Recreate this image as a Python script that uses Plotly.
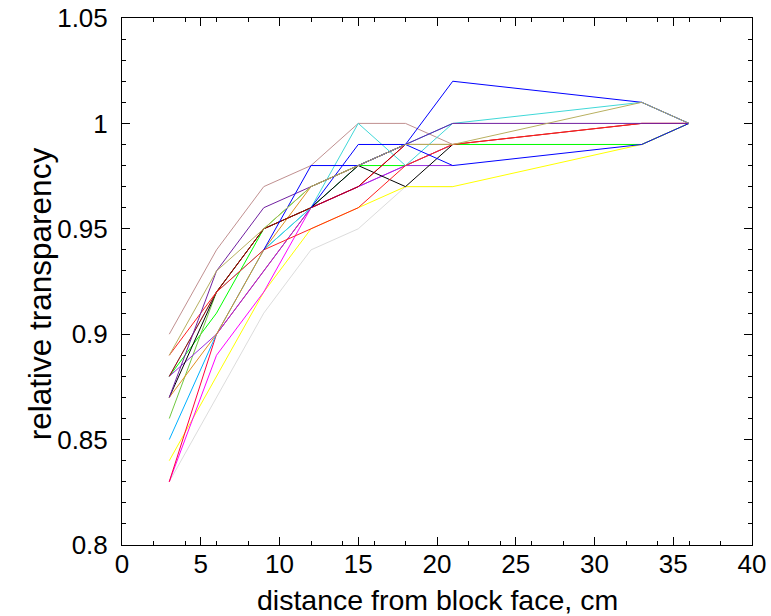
import plotly.graph_objects as go

# distances from the block face (cm) at which transparency was measured
distance = [3, 6, 9, 12, 15, 18, 21, 33, 36]

# relative transparency for each sample, one list per curve
# (None where a sample has no reading at that distance)
rosybrown = [0.90, 0.94, 0.97, 0.98, 1.00, 1.00, 0.99, 0.99, 1.00]
darkpurple = [0.87, 0.93, 0.96, 0.97, 0.98, 0.99, 1.00, 1.00, 1.00]
olive = [0.89, 0.93, 0.95, 0.97, 0.98, 0.99, 0.99, 1.01, 1.00]
goldenrod = [0.87, 0.90, 0.94, 0.97, 0.98, 0.99, 0.99, None, None]
red = [0.89, 0.92, 0.94, 0.95, 0.96, 0.98, 0.99, 1.00, 1.00]
darkred = [0.88, 0.92, 0.95, 0.96, 0.97, 0.99, 0.99, 1.00, 1.00]
green = [0.88, 0.91, 0.95, 0.97, 0.98, 0.98, 0.99, 0.99, 1.00]
yellowgreen = [0.86, 0.92, 0.95, 0.96, 0.98, 0.99, 0.99, None, None]
black = [0.87, 0.92, 0.95, 0.96, 0.98, 0.97, 0.99, None, None]
violet = [0.88, 0.90, 0.93, 0.96, 0.97, 0.98, 0.98, None, None]
deepskyblue = [0.85, 0.90, 0.94, 0.96, 0.98, 0.99, 1.00, None, None]
turquoise = [0.88, 0.92, 0.94, 0.96, 1.00, 0.98, 1.00, 1.01, 1.00]
crimson = [0.83, 0.90, 0.93, 0.96, 0.97, 0.99, 0.99, None, None]
magenta = [0.83, 0.89, 0.92, 0.96, 0.97, 0.98, 0.99, None, None]
lightgray = [0.83, 0.87, 0.91, 0.94, 0.95, 0.97, 0.97, None, None]
yellow = [0.84, 0.88, 0.92, 0.95, 0.96, 0.97, 0.97, 0.99, 1.00]
blue_a = [None, None, 0.94, 0.98, 0.98, 0.99, 0.98, 0.99, 1.00]
blue_b = [None, None, None, 0.96, 0.99, 0.99, 1.02, 1.01, 1.00]

y_ticks = [0.80, 0.85, 0.90, 0.95, 1.00, 1.05]
y_ticktext = ["0.8", "0.85", "0.9", "0.95", "1", "1.05"]

x_title = "distance from block face, cm"
y_title = "relative transparency"

curves = [
    (lightgray, "#dcdcdc"),
    (rosybrown, "#c09090"),
    (green, "#00ff00"),
    (yellow, "#ffff00"),
    (magenta, "#ff00ff"),
    (crimson, "#ff0040"),
    (deepskyblue, "#00b0ff"),
    (yellowgreen, "#70c840"),
    (violet, "#9830e0"),
    (black, "#000000"),
    (goldenrod, "#e09020"),
    (turquoise, "#40d8d8"),
    (darkred, "#b00000"),
    (red, "#ff2020"),
    (darkpurple, "#7020a0"),
    (blue_a, "#0000ff"),
    (blue_b, "#0000ff"),
    (olive, "#b8b060"),
]

fig = go.Figure()
for values, color in curves:
    fig.add_trace(go.Scatter(
        x=distance, y=values, mode="lines",
        line=dict(color=color, width=1),
        showlegend=False, hoverinfo="skip",
    ))

font_family = "Liberation Sans, Arial, sans-serif"

fig.update_layout(
    width=771, height=616,
    margin=dict(l=122, r=19, t=18, b=71, autoexpand=False),
    paper_bgcolor="white", plot_bgcolor="white",
    font=dict(family=font_family, color="black"),
    xaxis=dict(
        range=[0, 40], dtick=5, tick0=0, automargin=False,
        ticks="inside", ticklen=8, tickcolor="black",
        showline=True, linecolor="black", linewidth=1, mirror="allticks",
        showgrid=False, zeroline=False,
        minor=dict(dtick=2, ticks="inside", ticklen=4, tickcolor="black", showgrid=False),
        tickfont=dict(size=26), ticklabelstandoff=-4,
    ),
    yaxis=dict(
        range=[0.80, 1.05], tickvals=y_ticks, ticktext=y_ticktext, automargin=False,
        ticks="inside", ticklen=8, tickcolor="black",
        showline=True, linecolor="black", linewidth=1, mirror="allticks",
        showgrid=False, zeroline=False,
        minor=dict(dtick=0.01, tick0=0.8, ticks="inside", ticklen=4, tickcolor="black", showgrid=False),
        tickfont=dict(size=26), ticklabelstandoff=8,
    ),
    annotations=[
        dict(text=x_title, xref="paper", yref="paper", x=0.5, y=-0.104,
             xanchor="center", yanchor="middle", showarrow=False,
             font=dict(size=28.5)),
        dict(text=y_title, xref="paper", yref="paper", x=-0.130, y=0.476,
             xanchor="center", yanchor="middle", showarrow=False, textangle=-90,
             font=dict(size=31.5)),
    ],
)

fig.write_html("out.html")
